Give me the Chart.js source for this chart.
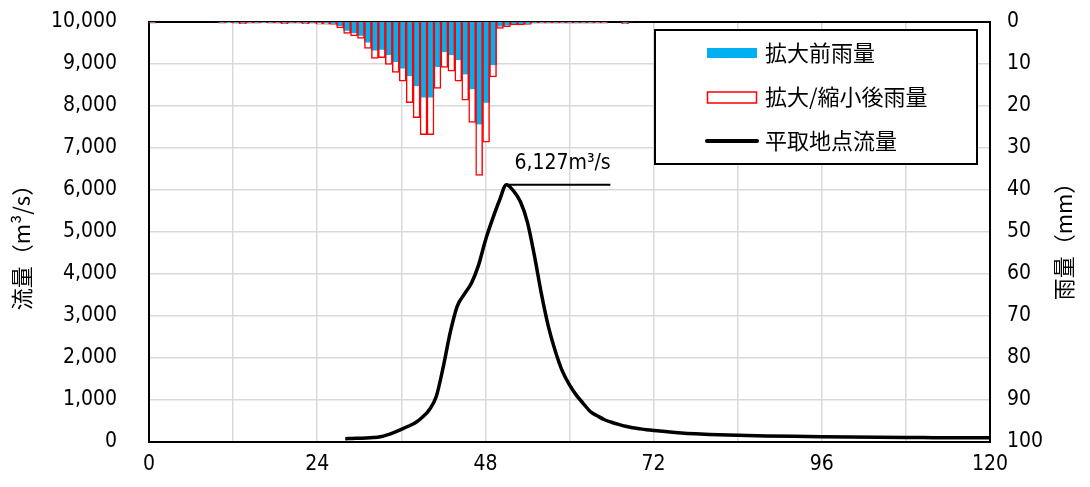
<!DOCTYPE html>
<html lang="ja">
<head>
<meta charset="utf-8">
<script src="https://cdn.jsdelivr.net/npm/chart.js@4"></script>
<style>
  html, body { margin: 0; padding: 0; background: #fff; }
  #wrap { width: 1090px; height: 487px; position: relative; }
</style>
</head>
<body>
<div id="wrap"><canvas id="hydroChart"></canvas></div>
<script>
// ── Data ─────────────────────────────────────────────────
// hourly rain (mm), one value per hour 0..120
const RAIN_AFTER = [
  0.3, 0, 0, 0, 0, 0, 0, 0, 0, 0,
  0.3, 0.2, 0.3, 0.4, 0.3, 0.3, 0.2, 0.3, 0.3, 0.4,
  0.3, 0.3, 0.4, 0.3, 0.5, 0.5, 0.6, 1.4, 2.7, 3.3,
  3.9, 6.3, 8.7, 8.5, 10.1, 12.0, 14.1, 19.2, 22.8, 26.8,
  26.8, 15.8, 10.8, 11.7, 14.1, 18.6, 23.9, 36.5, 28.6, 13.1,
  1.5, 1.1, 0.7, 0.7, 0.6, 0.3, 0.3, 0.3, 0.3, 0.3,
  0.3, 0.3, 0.3, 0.3, 0.3, 0.3, 0, 0, 0.4, 0,
  0, 0, 0, 0, 0, 0, 0, 0, 0, 0,
  0, 0, 0, 0, 0, 0, 0, 0, 0, 0,
  0, 0, 0, 0, 0, 0, 0, 0, 0, 0,
  0, 0, 0, 0, 0, 0, 0, 0, 0, 0,
  0, 0, 0, 0, 0, 0, 0, 0, 0, 0,
  0
];
const RAIN_BEFORE = [
  0.2, 0, 0, 0, 0, 0, 0, 0, 0, 0,
  0.2, 0.2, 0.2, 0.2, 0.2, 0.2, 0.2, 0.2, 0.2, 0.2,
  0.2, 0.2, 0.2, 0.2, 0.2, 0.3, 0.4, 1.0, 2.1, 2.7,
  3.3, 4.9, 6.8, 6.6, 7.9, 9.5, 11.1, 12.9, 15.3, 18.0,
  18.0, 10.7, 7.2, 7.9, 9.1, 12.5, 16.0, 24.4, 19.2, 10.3,
  1.1, 0.8, 0.5, 0.5, 0.4, 0.2, 0.2, 0.2, 0.2, 0.2,
  0.2, 0.2, 0.2, 0.2, 0.2, 0.2, 0, 0, 0.3, 0,
  0, 0, 0, 0, 0, 0, 0, 0, 0, 0,
  0, 0, 0, 0, 0, 0, 0, 0, 0, 0,
  0, 0, 0, 0, 0, 0, 0, 0, 0, 0,
  0, 0, 0, 0, 0, 0, 0, 0, 0, 0,
  0, 0, 0, 0, 0, 0, 0, 0, 0, 0,
  0
];
const RAIN_HOURS = RAIN_AFTER.map((_, i) => String(i));

// discharge at 平取 (m3/s)
const FLOW_HOURS = [
  28, 29, 30, 31, 32, 33, 34, 35, 36, 37, 38, 39, 40, 41, 42, 43, 44, 45, 46, 47,
  48, 49, 50, 51, 52, 53, 54, 55, 56, 57, 58, 59, 60, 61, 62, 63, 64, 65, 66, 67,
  68, 69, 70, 71, 72, 74, 76, 78, 80, 84, 88, 92, 96, 100, 104, 108, 112, 116, 120
];
const FLOW_VALUES = [
  80, 85, 90, 95, 105, 125, 170, 230, 300, 375, 460, 590, 770, 1090, 1800, 2620, 3240, 3520, 3780, 4200,
  4800, 5300, 5750, 6127, 5980, 5720, 5230, 4430, 3520, 2740, 2150, 1680, 1360, 1110, 910, 720, 620, 530, 470, 420,
  375, 340, 315, 292, 274, 245, 215, 195, 180, 160, 145, 134, 125, 118, 112, 107, 104, 102, 100
];

const LEGEND_LABELS = ['拡大前雨量', '拡大/縮小後雨量', '平取地点流量'];
const Y_TITLE  = '流量（m³/s）';
const YR_TITLE = '雨量（mm）';

// ── Styles ───────────────────────────────────────────────
const BLUE = '#00B0F0';
const RED  = '#FF0000';
const GRID = '#d9d9d9';
const NUM_FONT = "'DejaVu Sans Condensed', 'Roboto', sans-serif";
const JP_FONT  = "'Noto Sans CJK JP', 'Noto Sans', sans-serif";

const fmt = (v) => Number(v).toLocaleString('en-US');

// ── Plugins: frame, titles, peak note, legend ────────────
const framePlugin = {
  id: 'frame',
  beforeDatasetsDraw(chart) {
    const { ctx, chartArea: a } = chart;
    ctx.save();
    ctx.strokeStyle = '#000';
    ctx.lineWidth = 2;
    ctx.strokeRect(a.left, a.top, a.right - a.left, a.bottom - a.top);
    ctx.restore();
  }
};

const titlesPlugin = {
  id: 'titles',
  afterDraw(chart) {
    const { ctx } = chart;
    ctx.save();
    ctx.fillStyle = '#000';
    ctx.font = '22px ' + JP_FONT;
    ctx.textAlign = 'center';
    ctx.textBaseline = 'middle';
    [[22, 242, Y_TITLE], [1064, 236, YR_TITLE]].forEach(([x, y, t]) => {
      ctx.save();
      ctx.translate(x, y);
      ctx.rotate(-Math.PI / 2);
      ctx.fillText(t, 0, 0);
      ctx.restore();
    });
    ctx.restore();
  }
};

const peakPlugin = {
  id: 'peak',
  afterDatasetsDraw(chart) {
    const { ctx, scales } = chart;
    const peak = Math.max(...FLOW_VALUES);
    const hr = FLOW_HOURS[FLOW_VALUES.indexOf(peak)];
    const px = scales.x.getPixelForValue(hr);
    const py = scales.y.getPixelForValue(peak);
    ctx.save();
    ctx.strokeStyle = '#000';
    ctx.lineWidth = 2;
    ctx.beginPath();
    ctx.moveTo(px, py);
    ctx.lineTo(px + 104, py);
    ctx.stroke();
    ctx.fillStyle = '#000';
    ctx.textBaseline = 'alphabetic';
    ctx.font = '21px ' + NUM_FONT;
    ctx.fillText(fmt(peak) + 'm³/s', px + 8, py - 16);
    ctx.restore();
  }
};

const legendPlugin = {
  id: 'boxLegend',
  afterDraw(chart) {
    const { ctx } = chart;
    const bx = 655, by = 30, bw = 322, bh = 134;
    ctx.save();
    ctx.fillStyle = '#fff';
    ctx.fillRect(bx, by, bw, bh);
    ctx.strokeStyle = '#000';
    ctx.lineWidth = 2;
    ctx.strokeRect(bx, by, bw, bh);

    const sx = 707, sw = 50, tx = 765;
    const rows = [53, 97, 141];
    // blue swatch
    ctx.fillStyle = BLUE;
    ctx.fillRect(sx, rows[0] - 5, sw, 10);
    // red outlined swatch
    ctx.fillStyle = '#fff';
    ctx.fillRect(sx, rows[1] - 5, sw, 11);
    ctx.strokeStyle = RED;
    ctx.lineWidth = 1.5;
    ctx.strokeRect(sx + 0.5, rows[1] - 5, sw - 1, 11);
    // black line
    ctx.strokeStyle = '#000';
    ctx.lineWidth = 4;
    ctx.lineCap = 'round';
    ctx.beginPath();
    ctx.moveTo(sx, rows[2]);
    ctx.lineTo(sx + sw, rows[2]);
    ctx.stroke();

    ctx.fillStyle = '#000';
    ctx.font = '22px ' + JP_FONT;
    ctx.textBaseline = 'middle';
    LEGEND_LABELS.forEach((t, i) => ctx.fillText(t, tx, rows[i]));
    ctx.restore();
  }
};

// ── Chart ────────────────────────────────────────────────
new Chart(document.getElementById('hydroChart'), {
  type: 'bar',
  data: {
    labels: RAIN_HOURS,
    datasets: [
      {
        type: 'line',
        label: LEGEND_LABELS[2],
        data: FLOW_HOURS.map((h, i) => ({ x: h, y: FLOW_VALUES[i] })),
        xAxisID: 'x',
        yAxisID: 'y',
        borderColor: '#000',
        borderWidth: 3.5,
        pointRadius: 0,
        cubicInterpolationMode: 'monotone',
        fill: false,
        order: 0
      },
      {
        label: LEGEND_LABELS[0],
        data: RAIN_BEFORE,
        xAxisID: 'xr',
        yAxisID: 'yr',
        backgroundColor: BLUE,
        borderColor: RED,
        borderWidth: { left: 1.5, right: 1.5, top: 0, bottom: 0 },
        borderSkipped: false,
        barPercentage: 1,
        categoryPercentage: 1,
        grouped: false,
        order: 2
      },
      {
        label: LEGEND_LABELS[1],
        data: RAIN_AFTER,
        xAxisID: 'xr',
        yAxisID: 'yr',
        backgroundColor: '#fff',
        borderColor: RED,
        borderWidth: 1.5,
        borderSkipped: false,
        barPercentage: 1,
        categoryPercentage: 1,
        grouped: false,
        order: 3
      }
    ]
  },
  options: {
    responsive: true,
    maintainAspectRatio: false,
    animation: false,
    layout: { padding: { top: 22, left: 0, right: 0, bottom: 0 } },
    plugins: {
      legend: { display: false },
      tooltip: { enabled: false }
    },
    scales: {
      x: {
        type: 'linear',
        position: 'bottom',
        min: 0,
        max: 120,
        offset: false,
        afterFit: (s) => { s.height = 45; },
        border: { display: false },
        grid: { color: GRID, lineWidth: 1.5, drawTicks: false, offset: false },
        ticks: {
          stepSize: 12,
          padding: 10,
          color: '#000',
          maxRotation: 0,
          autoSkip: false,
          font: { family: NUM_FONT, size: 21 },
          callback: (v) => (v % 24 === 0 ? String(v) : '')
        }
      },
      xr: {
        type: 'category',
        labels: RAIN_HOURS,
        offset: true,
        display: false
      },
      y: {
        position: 'left',
        min: 0,
        max: 10000,
        afterFit: (s) => { s.width = 149; },
        border: { display: false },
        grid: { color: GRID, lineWidth: 1.5, drawTicks: true, tickLength: 28, tickColor: 'rgba(0,0,0,0)' },
        ticks: {
          stepSize: 1000,
          padding: 4,
          color: '#000',
          font: { family: NUM_FONT, size: 21 },
          callback: (v) => fmt(v)
        }
      },
      yr: {
        position: 'right',
        reverse: true,
        min: 0,
        max: 100,
        afterFit: (s) => { s.width = 100; },
        border: { display: false },
        grid: { display: false, drawOnChartArea: false, drawTicks: true, tickLength: 14, tickColor: 'rgba(0,0,0,0)' },
        ticks: {
          stepSize: 10,
          padding: 3,
          color: '#000',
          font: { family: NUM_FONT, size: 21 }
        }
      }
    }
  },
  plugins: [framePlugin, peakPlugin, legendPlugin, titlesPlugin]
});
</script>
</body>
</html>
